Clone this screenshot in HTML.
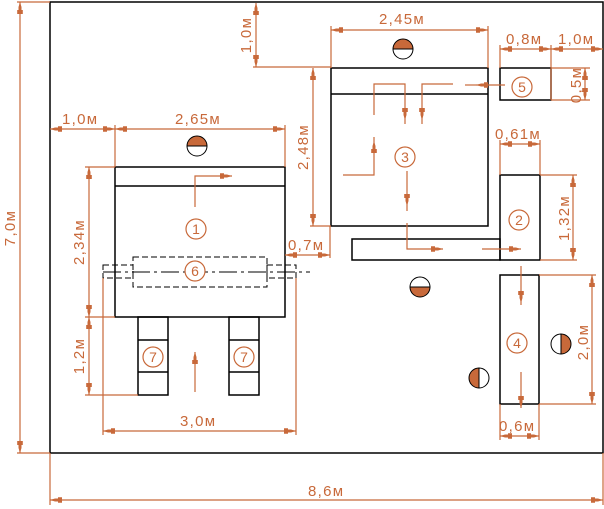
<!DOCTYPE html>
<html><head><meta charset="utf-8"><style>
html,body{margin:0;padding:0;background:#fff;}
svg{display:block;}
text{font-family:"Liberation Sans",sans-serif;fill:#c8693a;font-size:15px;letter-spacing:1.3px;}
.n{font-size:14px;letter-spacing:0;text-anchor:middle;dominant-baseline:central;}
</style></head><body>
<svg width="604" height="509" viewBox="0 0 604 509" xmlns="http://www.w3.org/2000/svg">
<defs>
<marker id="a" markerUnits="userSpaceOnUse" markerWidth="16" markerHeight="10" refX="0" refY="0" viewBox="-14 -5 16 10" orient="auto-start-reverse" overflow="visible">
<polygon points="0,0 -5,1.5 -8,1.5 -8,2.8 -12,2.8 -12,-2.8 -8,-2.8 -8,-1.5 -5,-1.5" fill="#c8693a"/>
</marker>
</defs>
<g fill="none" stroke="#000" stroke-width="1.5">
<polyline points="50,453 50,2 603,2 603,453 50,453"/>
<rect x="115" y="167" width="170" height="150"/>
<line x1="115" y1="186" x2="285" y2="186"/>
<rect x="138" y="317" width="30" height="78"/>
<line x1="138" y1="340" x2="168" y2="340"/><line x1="138" y1="372" x2="168" y2="372"/>
<rect x="229" y="317" width="30" height="78"/>
<line x1="229" y1="340" x2="259" y2="340"/><line x1="229" y1="372" x2="259" y2="372"/>
<rect x="331" y="68" width="157" height="158"/>
<line x1="331" y1="94" x2="488" y2="94"/>
<rect x="352" y="239" width="148" height="21"/>
<rect x="500" y="175" width="40" height="85"/>
<rect x="500" y="68" width="51" height="32"/>
<rect x="500" y="275" width="39" height="129"/>
</g>
<g fill="none" stroke="#000" stroke-width="1" stroke-dasharray="6,3">
<rect x="133" y="257" width="134" height="30"/>
<rect x="103" y="265" width="30" height="13"/>
<rect x="267" y="265" width="29" height="13"/>
</g>
<line x1="103" y1="272" x2="310" y2="272" stroke="#000" stroke-width="1" stroke-dasharray="18,4,3,4"/>
<g stroke="#c8693a" stroke-width="1.2" fill="none">
<line x1="17" y1="2" x2="50" y2="2"/><line x1="17" y1="453" x2="50" y2="453"/>
<line x1="20" y1="2" x2="20" y2="453" marker-start="url(#a)" marker-end="url(#a)"/>
<line x1="50" y1="453" x2="50" y2="505"/><line x1="603" y1="453" x2="603" y2="505"/>
<line x1="50" y1="500" x2="603" y2="500" marker-start="url(#a)" marker-end="url(#a)"/>
<line x1="115" y1="125" x2="115" y2="167"/><line x1="285" y1="125" x2="285" y2="167"/>
<line x1="50" y1="129" x2="115" y2="129" marker-start="url(#a)" marker-end="url(#a)"/>
<line x1="115" y1="129" x2="285" y2="129" marker-start="url(#a)" marker-end="url(#a)"/>
<line x1="85" y1="167" x2="115" y2="167"/><line x1="85" y1="317" x2="115" y2="317"/><line x1="85" y1="395" x2="138" y2="395"/>
<line x1="89" y1="167" x2="89" y2="317" marker-start="url(#a)" marker-end="url(#a)"/>
<line x1="89" y1="317" x2="89" y2="395" marker-start="url(#a)" marker-end="url(#a)"/>
<line x1="103" y1="278" x2="103" y2="435"/><line x1="296" y1="278" x2="296" y2="435"/>
<line x1="103" y1="431" x2="296" y2="431" marker-start="url(#a)" marker-end="url(#a)"/>
<line x1="285" y1="255" x2="330" y2="255" marker-start="url(#a)" marker-end="url(#a)"/>
<line x1="330" y1="226" x2="330" y2="258"/>
<line x1="331" y1="26" x2="331" y2="68"/><line x1="488" y1="26" x2="488" y2="68"/>
<line x1="331" y1="30" x2="488" y2="30" marker-start="url(#a)" marker-end="url(#a)"/>
<line x1="256" y1="3" x2="256" y2="67" marker-start="url(#a)" marker-end="url(#a)"/>
<line x1="253" y1="67" x2="331" y2="67"/>
<line x1="313" y1="68" x2="313" y2="226" marker-start="url(#a)" marker-end="url(#a)"/>
<line x1="310" y1="226" x2="331" y2="226"/>
<line x1="500" y1="45" x2="500" y2="68"/><line x1="551" y1="45" x2="551" y2="100"/>
<line x1="500" y1="49" x2="551" y2="49" marker-start="url(#a)" marker-end="url(#a)"/>
<line x1="551" y1="49" x2="603" y2="49" marker-start="url(#a)" marker-end="url(#a)"/>
<line x1="551" y1="68" x2="590" y2="68"/><line x1="551" y1="100" x2="590" y2="100"/>
<line x1="585" y1="68" x2="585" y2="100" marker-start="url(#a)" marker-end="url(#a)"/>
<line x1="500" y1="140" x2="500" y2="175"/><line x1="540" y1="140" x2="540" y2="175"/>
<line x1="500" y1="144" x2="540" y2="144" marker-start="url(#a)" marker-end="url(#a)"/>
<line x1="540" y1="175" x2="577" y2="175"/><line x1="540" y1="260" x2="577" y2="260"/>
<line x1="573" y1="175" x2="573" y2="260" marker-start="url(#a)" marker-end="url(#a)"/>
<line x1="539" y1="275" x2="596" y2="275"/><line x1="539" y1="404" x2="596" y2="404"/>
<line x1="592" y1="275" x2="592" y2="404" marker-start="url(#a)" marker-end="url(#a)"/>
<line x1="500" y1="404" x2="500" y2="440"/><line x1="539" y1="404" x2="539" y2="440"/>
<line x1="500" y1="436" x2="539" y2="436" marker-start="url(#a)" marker-end="url(#a)"/>
<polyline points="195,207 195,176 232,176" marker-end="url(#a)"/>
<line x1="195" y1="392" x2="195" y2="352" marker-end="url(#a)"/>
<polyline points="374,115 374,84 405,84 405,120" marker-end="url(#a)"/>
<line x1="405" y1="120" x2="405" y2="124"/>
<polyline points="453,84 422,84 422,120" marker-end="url(#a)"/>
<line x1="422" y1="120" x2="422" y2="124"/>
<line x1="505" y1="85" x2="476" y2="85" marker-end="url(#a)"/>
<line x1="476" y1="85" x2="465" y2="85"/>
<polyline points="343,175 374,175 374,141" marker-end="url(#a)"/>
<line x1="374" y1="141" x2="374" y2="137"/>
<line x1="407" y1="171" x2="407" y2="206" marker-end="url(#a)"/>
<line x1="407" y1="206" x2="407" y2="211"/>
<polyline points="407,223 407,249 443,249" marker-end="url(#a)"/>
<line x1="482" y1="249" x2="521" y2="249" marker-end="url(#a)"/>
<line x1="521" y1="266" x2="521" y2="303" marker-end="url(#a)"/>
<line x1="521" y1="303" x2="521" y2="305"/>
<line x1="521" y1="372" x2="521" y2="408" marker-end="url(#a)"/>
<circle cx="196" cy="229" r="10"/><circle cx="195" cy="271" r="10" fill="#fff"/>
<circle cx="153" cy="357" r="10"/><circle cx="244" cy="357" r="10"/>
<circle cx="405" cy="157" r="10"/><circle cx="519" cy="220" r="10"/>
<circle cx="522" cy="87" r="10"/><circle cx="517" cy="343" r="10"/>
</g>
<text class="n" x="196" y="229">1</text><text class="n" x="195" y="271">6</text>
<text class="n" x="153" y="357">7</text><text class="n" x="244" y="357">7</text>
<text class="n" x="405" y="157">3</text><text class="n" x="519" y="220">2</text>
<text class="n" x="522" y="87">5</text><text class="n" x="517" y="343">4</text>
<g stroke="#000" stroke-width="1">
<g transform="translate(197,146)"><path d="M-10,0 A10,10 0 0 1 10,0 Z" fill="#c8693a"/><path d="M-10,0 A10,10 0 0 0 10,0 Z" fill="#fff"/></g>
<g transform="translate(403,49)"><path d="M-10,0 A10,10 0 0 1 10,0 Z" fill="#c8693a"/><path d="M-10,0 A10,10 0 0 0 10,0 Z" fill="#fff"/></g>
<g transform="translate(420,287)"><path d="M-10,0 A10,10 0 0 1 10,0 Z" fill="#fff"/><path d="M-10,0 A10,10 0 0 0 10,0 Z" fill="#c8693a"/></g>
<g transform="translate(561,344)"><path d="M0,-10 A10,10 0 0 0 0,10 Z" fill="#fff"/><path d="M0,-10 A10,10 0 0 1 0,10 Z" fill="#c8693a"/></g>
<g transform="translate(479,378)"><path d="M0,-10 A10,10 0 0 0 0,10 Z" fill="#c8693a"/><path d="M0,-10 A10,10 0 0 1 0,10 Z" fill="#fff"/></g>
</g>
<text x="308" y="496">8,6м</text>
<text transform="translate(15,228) rotate(-90)" text-anchor="middle">7,0м</text>
<text x="62" y="124">1,0м</text>
<text x="175" y="124">2,65м</text>
<text transform="translate(84,242) rotate(-90)" text-anchor="middle">2,34м</text>
<text transform="translate(84,356) rotate(-90)" text-anchor="middle">1,2м</text>
<text x="180" y="426">3,0м</text>
<text x="288" y="250">0,7м</text>
<text x="379" y="24">2,45м</text>
<text transform="translate(251,35) rotate(-90)" text-anchor="middle">1,0м</text>
<text transform="translate(308,147) rotate(-90)" text-anchor="middle">2,48м</text>
<text x="506" y="44">0,8м</text>
<text x="558" y="44">1,0м</text>
<text transform="translate(581,85) rotate(-90)" text-anchor="middle">0,5м</text>
<text x="495" y="139">0,61м</text>
<text transform="translate(569,218) rotate(-90)" text-anchor="middle">1,32м</text>
<text transform="translate(588,342) rotate(-90)" text-anchor="middle">2,0м</text>
<text x="499" y="431">0,6м</text>
</svg>
</body></html>
